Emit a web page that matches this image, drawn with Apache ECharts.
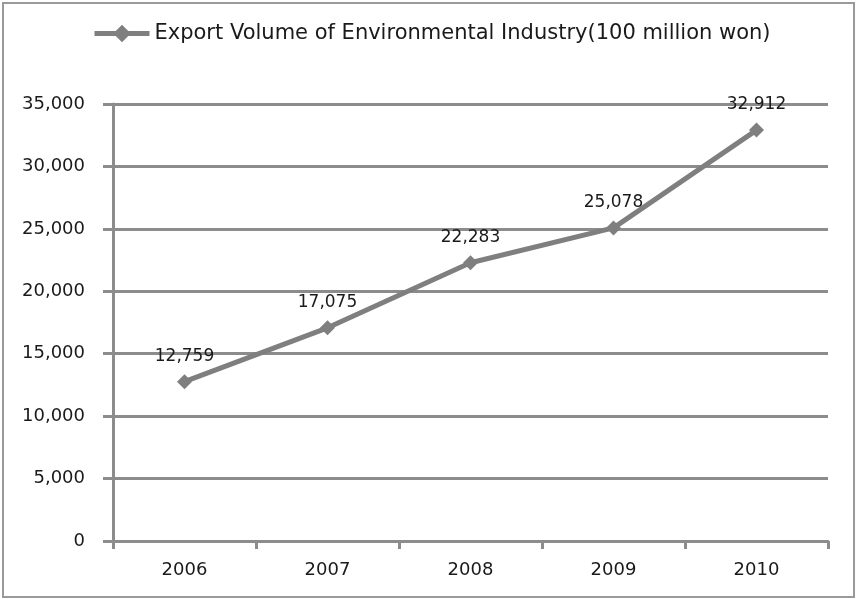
<!DOCTYPE html>
<html>
<head>
<meta charset="utf-8">
<style>
  html, body { margin: 0; padding: 0; background: #ffffff; }
  #chart { width: 856px; height: 599px; }
</style>
<script src="https://cdn.jsdelivr.net/npm/echarts@6/dist/echarts.min.js"></script>
</head>
<body>
<div id="chart"></div>
<script>
// Export volume of the environmental industry, 2006–2010 (unit: 100 million won)
const years = ['2006', '2007', '2008', '2009', '2010'];
const exportVolume = [12759, 17075, 22283, 25078, 32912];
const seriesName = 'Export Volume of Environmental Industry(100 million won)';

const FONT = 'DejaVu Sans';
const GRAY = '#8c8c8c';
const LINE = '#7f7f7f';

const chart = echarts.init(document.getElementById('chart'), null, { renderer: 'canvas' });

chart.setOption({
  animation: false,
  backgroundColor: '#ffffff',
  graphic: [{
    type: 'rect',
    shape: { x: 3, y: 3, width: 851, height: 594 },
    style: { fill: 'none', stroke: '#9a9a9a', lineWidth: 2 },
    silent: true
  }],
  legend: {
    left: 87,
    top: 18,
    itemWidth: 55,
    itemHeight: 22,
    lineStyle: { width: 5, color: LINE },
    itemStyle: { color: LINE },
    textStyle: { fontFamily: FONT, fontSize: 21, color: '#1a1a1a' },
    data: [seriesName]
  },
  grid: { left: 113, right: 28, top: 104, bottom: 58, containLabel: false },
  xAxis: {
    type: 'category',
    data: years,
    boundaryGap: true,
    axisLine: { lineStyle: { color: GRAY, width: 3 } },
    axisTick: { show: true, length: 8, alignWithLabel: false, lineStyle: { color: GRAY, width: 3 } },
    axisLabel: { fontFamily: FONT, fontSize: 18, color: '#1a1a1a', margin: 20 }
  },
  yAxis: {
    type: 'value',
    min: 0,
    max: 35000,
    interval: 5000,
    axisLine: { show: true, lineStyle: { color: GRAY, width: 3 } },
    axisTick: { show: true, length: 10, lineStyle: { color: GRAY, width: 3 } },
    splitLine: { show: true, lineStyle: { color: GRAY, width: 3 } },
    axisLabel: {
      fontFamily: FONT, fontSize: 18, color: '#1a1a1a', margin: 28,
      formatter: v => v.toLocaleString('en-US')
    }
  },
  series: [{
    name: seriesName,
    type: 'line',
    data: exportVolume,
    symbol: 'diamond',
    symbolSize: 15,
    lineStyle: { color: LINE, width: 5 },
    itemStyle: { color: LINE },
    label: {
      show: true,
      position: 'top',
      distance: 9,
      fontFamily: FONT,
      fontSize: 17,
      color: '#1a1a1a',
      formatter: p => p.value.toLocaleString('en-US')
    }
  }]
});
</script>
</body>
</html>
